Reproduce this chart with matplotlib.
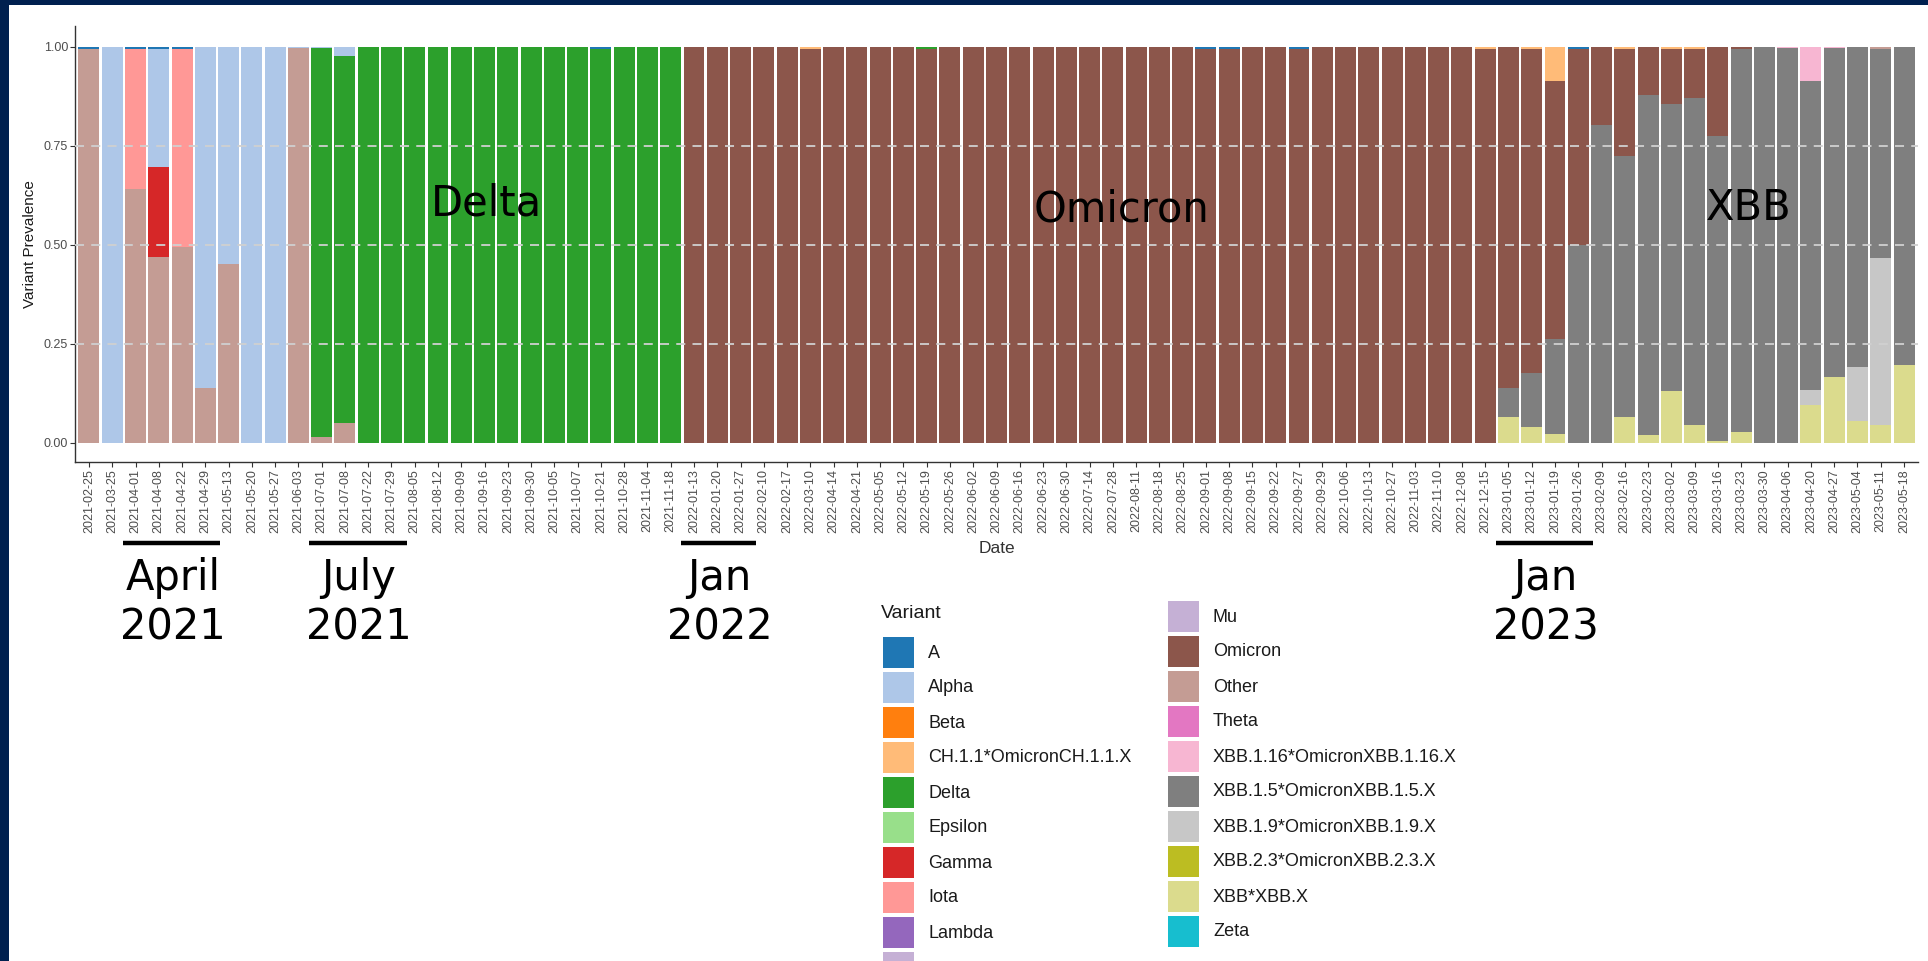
import matplotlib.pyplot as plt
from matplotlib.patches import Rectangle
from matplotlib.transforms import blended_transform_factory
import numpy as np

W, H = 1928, 961

dates = ['2021-02-25', '2021-03-25', '2021-04-01', '2021-04-08', '2021-04-22', '2021-04-29',
         '2021-05-13', '2021-05-20', '2021-05-27', '2021-06-03', '2021-07-01', '2021-07-08',
         '2021-07-22', '2021-07-29', '2021-08-05', '2021-08-12', '2021-09-09', '2021-09-16',
         '2021-09-23', '2021-09-30', '2021-10-05', '2021-10-07', '2021-10-21', '2021-10-28',
         '2021-11-04', '2021-11-18',
         '2022-01-13', '2022-01-20', '2022-01-27', '2022-02-10', '2022-02-17', '2022-03-10',
         '2022-04-14', '2022-04-21', '2022-05-05', '2022-05-12', '2022-05-19', '2022-05-26',
         '2022-06-02', '2022-06-09', '2022-06-16', '2022-06-23', '2022-06-30', '2022-07-14',
         '2022-07-28', '2022-08-11', '2022-08-18', '2022-08-25', '2022-09-01', '2022-09-08',
         '2022-09-15', '2022-09-22', '2022-09-27', '2022-09-29', '2022-10-06', '2022-10-13',
         '2022-10-27', '2022-11-03', '2022-11-10', '2022-12-08', '2022-12-15',
         '2023-01-05', '2023-01-12', '2023-01-19', '2023-01-26', '2023-02-09', '2023-02-16',
         '2023-02-23', '2023-03-02', '2023-03-09', '2023-03-16', '2023-03-23', '2023-03-30',
         '2023-04-06', '2023-04-20', '2023-04-27', '2023-05-04', '2023-05-11', '2023-05-18']

variants = ['A', 'Alpha', 'Beta', 'CH.1.1*OmicronCH.1.1.X', 'Delta', 'Epsilon', 'Gamma', 'Iota',
            'Lambda', 'Mu', 'Omicron', 'Other', 'Theta', 'XBB.1.16*OmicronXBB.1.16.X',
            'XBB.1.5*OmicronXBB.1.5.X', 'XBB.1.9*OmicronXBB.1.9.X', 'XBB.2.3*OmicronXBB.2.3.X',
            'XBB*XBB.X', 'Zeta']
colors = ['#1f77b4', '#aec7e8', '#ff7f0e', '#ffbb78', '#2ca02c', '#98df8a', '#d62728', '#ff9896',
          '#9467bd', '#c5b0d5', '#8c564b', '#c49c94', '#e377c2', '#f7b6d2', '#7f7f7f', '#c7c7c7',
          '#bcbd22', '#dbdb8d', '#17becf']

# prevalence per variant, split 2021 (26) / 2022 (35) / 2023 (18)
a_share = ([.005, 0, .005, .005, .005, 0, 0, 0, 0, 0, 0, 0, 0, 0, 0, 0, 0, 0, 0, 0, 0, 0, .005, 0, 0, 0]
           + [0, 0, 0, 0, 0, 0, 0, 0, 0, 0, 0, 0, 0, 0, 0, 0, 0, 0, 0, 0, 0, 0, .006, .006, 0, 0, .006,
              0, 0, 0, 0, 0, 0, 0, 0]
           + [0, 0, 0, .005, 0, 0, 0, 0, 0, 0, 0, 0, 0, 0, 0, 0, 0, 0])
alpha_share = ([0, 1.0, 0, .299, 0, .863, .55, 1.0, 1.0, .004, .003, .023, 0, 0, 0, 0, 0, 0, 0, 0, 0, 0,
                0, 0, 0, 0]
               + [0] * 35
               + [0] * 18)
ch11_share = ([0] * 26
              + [0, 0, 0, 0, 0, .007, 0, 0, 0, 0, 0, 0, 0, 0, 0, 0, 0, 0, 0, 0, 0, 0, 0, 0, 0, 0, 0, 0,
                 0, 0, 0, 0, 0, 0, .006]
              + [0, .005, .086, 0, 0, .005, 0, .005, .005, 0, 0, 0, 0, 0, 0, 0, 0, 0])
delta_share = ([0, 0, 0, 0, 0, 0, 0, 0, 0, 0, .982, .927, 1.0, 1.0, 1.0, 1.0, 1.0, 1.0, 1.0, 1.0, 1.0,
                1.0, .995, 1.0, 1.0, 1.0]
               + [0, 0, 0, 0, 0, 0, 0, 0, 0, 0, .006, 0, 0, 0, 0, 0, 0, 0, 0, 0, 0, 0, 0, 0, 0, 0, 0,
                  0, 0, 0, 0, 0, 0, 0, 0]
               + [0] * 18)
gamma_share = ([0, 0, 0, .228, 0, 0, 0, 0, 0, 0, 0, 0, 0, 0, 0, 0, 0, 0, 0, 0, 0, 0, 0, 0, 0, 0]
               + [0] * 35
               + [0] * 18)
iota_share = ([0, 0, .354, 0, .502, 0, 0, 0, 0, 0, 0, 0, 0, 0, 0, 0, 0, 0, 0, 0, 0, 0, 0, 0, 0, 0]
              + [0] * 35
              + [0] * 18)
omicron_share = ([0] * 26
                 + [1.0, 1.0, 1.0, 1.0, 1.0, .993, 1.0, 1.0, 1.0, 1.0, .994, 1.0, 1.0, 1.0, 1.0, 1.0,
                    1.0, 1.0, 1.0, 1.0, 1.0, 1.0, .994, .994, 1.0, 1.0, .994, 1.0, 1.0, 1.0, 1.0, 1.0,
                    1.0, 1.0, .994]
                 + [.862, .819, .653, .497, .198, .272, .123, .139, .124, .225, .007, 0, 0, 0, 0, 0, 0, 0])
other_share = ([.995, 0, .641, .468, .493, .137, .45, 0, 0, .996, .015, .05, 0, 0, 0, 0, 0, 0, 0, 0, 0,
                0, 0, 0, 0, 0]
               + [0] * 35
               + [0, 0, 0, 0, 0, 0, 0, 0, 0, 0, 0, 0, 0, 0, 0, 0, .005, 0])
xbb116_share = ([0] * 26
                + [0] * 35
                + [0, 0, 0, 0, 0, 0, 0, 0, 0, 0, 0, 0, .004, .086, .004, 0, 0, 0])
xbb15_share = ([0] * 26
               + [0] * 35
               + [.073, .136, .24, .498, .802, .658, .859, .726, .827, .771, .967, 1.0, .996, .78, .83,
                  .81, .528, .805])
xbb19_share = ([0] * 26
               + [0] * 35
               + [0, 0, 0, 0, 0, 0, 0, 0, 0, 0, 0, 0, 0, .04, 0, .136, .423, 0])
xbb_share = ([0] * 26
             + [0] * 35
             + [.065, .04, .021, 0, 0, .065, .018, .13, .044, .004, .026, 0, 0, .094, .166, .054, .044,
                .195])

series = {'A': a_share, 'Alpha': alpha_share, 'CH.1.1*OmicronCH.1.1.X': ch11_share,
          'Delta': delta_share, 'Gamma': gamma_share, 'Iota': iota_share, 'Omicron': omicron_share,
          'Other': other_share, 'XBB.1.16*OmicronXBB.1.16.X': xbb116_share,
          'XBB.1.5*OmicronXBB.1.5.X': xbb15_share, 'XBB.1.9*OmicronXBB.1.9.X': xbb19_share,
          'XBB*XBB.X': xbb_share}

# era labels and the date ranges they underline
periods = [('April', '2021', '2021-04-01', '2021-04-29'),
           ('July', '2021', '2021-07-01', '2021-07-29'),
           ('Jan', '2022', '2022-01-13', '2022-01-27'),
           ('Jan', '2023', '2023-01-05', '2023-01-26')]
eras = [('Delta', 486, 215), ('Omicron', 1122, 222), ('XBB', 1749, 220)]


def fx(px):
    return px / W


def fy(py):
    return 1 - py / H


fig = plt.figure(figsize=(W / 100, H / 100), dpi=100)
fig.patch.set_facecolor('white')
ax = fig.add_axes([fx(75), fy(462), fx(1918) - fx(75), fy(26) - fy(462)])

x = np.arange(len(dates))
bottom = np.zeros(len(dates))
for name, col in zip(reversed(variants), reversed(colors)):
    if name not in series:
        continue
    vals = np.array(series[name], dtype=float)
    ax.bar(x, vals, bottom=bottom, width=0.9, color=col, linewidth=0, zorder=2)
    bottom += vals

for gy in [0.25, 0.5, 0.75]:
    ax.axhline(gy, color='#d0d0d0', lw=1.3, ls=(0, (5, 4)), zorder=3)

ax.set_xlim(-0.6, len(dates) - 0.4)
ax.set_ylim(-0.049, 1.052)
ax.set_yticks([0, 0.25, 0.5, 0.75, 1.0])
ax.set_yticklabels(['0.00', '0.25', '0.50', '0.75', '1.00'])
ax.set_xticks(x)
ax.set_xticklabels(dates, rotation=90)
for lab in ax.get_xticklabels() + ax.get_yticklabels():
    lab.set_fontfamily('Liberation Sans')
    lab.set_fontsize(9)
    lab.set_color('#4d4d4d')
ax.tick_params(axis='both', length=3.5, width=0.8, color='#333333', pad=1.5)

for side in ['top', 'right']:
    ax.spines[side].set_visible(False)
for side in ['left', 'bottom']:
    ax.spines[side].set_linewidth(1.0)
    ax.spines[side].set_color('#333333')

ax.set_xlabel('Date', fontfamily='Liberation Sans', fontsize=12.5, color='#333333')
ax.xaxis.set_label_coords(0.5, (462 - 541) / 436)
ax.set_ylabel('Variant Prevalence', fontfamily='Liberation Sans', fontsize=11, color='#1a1a1a')
ax.yaxis.set_label_coords((37 - 75) / 1843, 0.5)

# era names over the bars
for name, cx, cy in eras:
    fig.text(fx(cx), fy(cy), name, fontsize=30, family='DejaVu Sans', ha='center', va='baseline',
             color='black', zorder=10)

# underlines and month labels below the axis
trans = blended_transform_factory(ax.transData, fig.transFigure)
for month, year, d0, d1 in periods:
    i0, i1 = dates.index(d0), dates.index(d1)
    ax.plot([i0 - 0.55, i1 + 0.65], [fy(543), fy(543)], transform=trans, color='black', lw=3.2,
            solid_capstyle='butt', clip_on=False)
    disp = ax.transData.transform([((i0 + i1) / 2 + 0.1, 0)])[0][0]
    cx = fig.transFigure.inverted().transform([(disp, 0)])[0][0]
    fig.text(cx, fy(590), month, fontsize=30, family='DejaVu Sans', ha='center', va='baseline')
    fig.text(cx, fy(640), year, fontsize=30, family='DejaVu Sans', ha='center', va='baseline')

# legend drawn by hand: title + two columns (first column runs off the bottom edge)
fig.text(fx(881), fy(614), 'Variant', fontsize=14, family='Liberation Sans', color='#1a1a1a',
         ha='left', va='center')
col1 = variants[:10]
col2 = variants[9:]
cols = [(col1, 883, 637), (col2, 1168, 601)]
for names, kx, ky in cols:
    for r, name in enumerate(names):
        top = ky + r * 35
        c = colors[variants.index(name)]
        fig.patches.append(Rectangle((fx(kx), fy(top + 31)), 31 / W, 31 / H, transform=fig.transFigure,
                                     facecolor=c, edgecolor='none', zorder=5))
        if top + 24 > H:
            continue  # label lies below the visible area
        fig.text(fx(kx + 45), fy(top + 16), name, fontsize=13, family='Liberation Sans',
                 color='#1a1a1a', ha='left', va='center')

# navy slide frame
navy = '#00204f'
fig.patches.append(Rectangle((0, 0), 9 / W, 1, transform=fig.transFigure, facecolor=navy,
                             edgecolor='none', zorder=20))
fig.patches.append(Rectangle((0, fy(5)), 1, 5 / H, transform=fig.transFigure, facecolor=navy,
                             edgecolor='none', zorder=20))

fig.savefig('out.png', dpi=100)
